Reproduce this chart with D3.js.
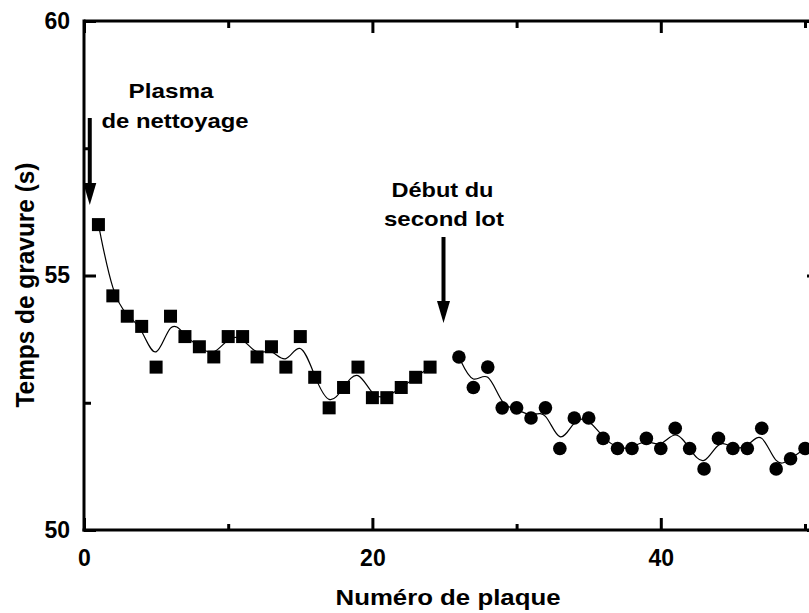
<!DOCTYPE html>
<html>
<head>
<meta charset="utf-8">
<script src="https://cdn.jsdelivr.net/npm/d3@7"></script>
<style>
  html, body { margin: 0; padding: 0; background: #fff; }
  svg { display: block; }
  text { font-family: "Liberation Sans", Arial, sans-serif; font-weight: bold; fill: #000; }
</style>
</head>
<body>
<svg id="chart" width="809" height="613"></svg>
<script>
// ---- Data ----
const lot1Plates = [1,2,3,4,5,6,7,8,9,10,11,12,13,14,15,16,17,18,19,20,21,22,23,24];
const lot1Times  = [56.0,54.6,54.2,54.0,53.2,54.2,53.8,53.6,53.4,53.8,53.8,53.4,53.6,53.2,53.8,53.0,52.4,52.8,53.2,52.6,52.6,52.8,53.0,53.2];
const lot2Plates = [26,27,28,29,30,31,32,33,34,35,36,37,38,39,40,41,42,43,44,45,46,47,48,49,50];
const lot2Times  = [53.4,52.8,53.2,52.4,52.4,52.2,52.4,51.6,52.2,52.2,51.8,51.6,51.6,51.8,51.6,52.0,51.6,51.2,51.8,51.6,51.6,52.0,51.2,51.4,51.6];
const xMajorTicks = [0, 20, 40];
const xMinorTicks = [10, 30, 50];
const yMajorTicks = [50, 55, 60];
const yMinorTicks = [52.5, 57.5];
const xTitle = "Numéro de plaque";
const yTitle = "Temps de gravure (s)";
const annotations = [
  { lines: ["Plasma", "de nettoyage"], plate: 0.4 },
  { lines: ["Début du", "second lot"], plate: 25 }
];

// ---- Layout ----
const svg = d3.select("#chart");
const x = d3.scaleLinear().domain([0, 50]).range([84, 805]);
const y = d3.scaleLinear().domain([50, 60]).range([530, 21]);
const xRight = x(50.97);

const lot1 = lot1Plates.map((p, i) => ({ p, v: lot1Times[i] }));
const lot2 = lot2Plates.map((p, i) => ({ p, v: lot2Times[i] }));

// frame lines (top & right)
const gx0 = x(0);
svg.append("line").attr("x1", gx0).attr("x2", xRight).attr("y1", y(60)).attr("y2", y(60))
  .attr("stroke", "#000").attr("stroke-width", 3);
svg.append("line").attr("x1", xRight).attr("x2", xRight).attr("y1", y(60)).attr("y2", y(50))
  .attr("stroke", "#000").attr("stroke-width", 3);

function styleAxis(g) {
  g.select(".domain").attr("stroke", "#000").attr("stroke-width", 3);
  g.selectAll(".tick line").attr("stroke", "#000").attr("stroke-width", 3);
  g.selectAll(".tick text").style("font-size", "23px").style("font-family", "Liberation Sans, Arial, sans-serif").style("font-weight", "bold");
}

// bottom axis
const bottomMajor = svg.append("g").attr("transform", `translate(0,${y(50)})`)
  .call(d3.axisBottom(x).tickValues(xMajorTicks).tickSize(-12).tickSizeOuter(0).tickPadding(20).tickFormat(d3.format("d")));
styleAxis(bottomMajor);
bottomMajor.select(".domain").attr("d", `M${x(0)-1.5},0H${xRight}`);
const bottomMinor = svg.append("g").attr("transform", `translate(0,${y(50)})`)
  .call(d3.axisBottom(x).tickValues(xMinorTicks).tickSize(-6).tickSizeOuter(0).tickFormat(""));
styleAxis(bottomMinor);
bottomMinor.select(".domain").remove();

// top axis ticks
const topMajor = svg.append("g").attr("transform", `translate(0,${y(60)})`)
  .call(d3.axisTop(x).tickValues(xMajorTicks).tickSize(-12).tickSizeOuter(0).tickFormat(""));
styleAxis(topMajor); topMajor.select(".domain").remove();
const topMinor = svg.append("g").attr("transform", `translate(0,${y(60)})`)
  .call(d3.axisTop(x).tickValues(xMinorTicks).tickSize(-7).tickSizeOuter(0).tickFormat(""));
styleAxis(topMinor); topMinor.select(".domain").remove();

// left axis
const leftMajor = svg.append("g").attr("transform", `translate(${x(0)},0)`)
  .call(d3.axisLeft(y).tickValues(yMajorTicks).tickSize(-12).tickSizeOuter(0).tickPadding(14).tickFormat(d3.format("d")));
styleAxis(leftMajor);
leftMajor.select(".domain").attr("d", `M0,${y(60)-1.5}V${y(50)+1.5}`);
const leftMinor = svg.append("g").attr("transform", `translate(${x(0)},0)`)
  .call(d3.axisLeft(y).tickValues(yMinorTicks).tickSize(-7).tickSizeOuter(0).tickFormat(""));
styleAxis(leftMinor); leftMinor.select(".domain").remove();

// right axis ticks
const rightMajor = svg.append("g").attr("transform", `translate(${xRight},0)`)
  .call(d3.axisRight(y).tickValues(yMajorTicks).tickSize(-12).tickSizeOuter(0).tickFormat(""));
styleAxis(rightMajor); rightMajor.select(".domain").remove();
const rightMinor = svg.append("g").attr("transform", `translate(${xRight},0)`)
  .call(d3.axisRight(y).tickValues(yMinorTicks).tickSize(-7).tickSizeOuter(0).tickFormat(""));
styleAxis(rightMinor); rightMinor.select(".domain").remove();

// smooth curves
const line = d3.line().x(d => x(d.p)).y(d => y(d.v)).curve(d3.curveBasis);
[lot1, lot2].forEach(s => {
  svg.append("path").datum(s).attr("d", line)
    .attr("fill", "none").attr("stroke", "#000").attr("stroke-width", 1.2);
});

// markers
const sq = 13;
svg.append("g").selectAll("rect").data(lot1).join("rect")
  .attr("x", d => x(d.p) - sq/2).attr("y", d => y(d.v) - sq/2)
  .attr("width", sq).attr("height", sq).attr("fill", "#000");
svg.append("g").selectAll("circle").data(lot2).join("circle")
  .attr("cx", d => x(d.p)).attr("cy", d => y(d.v)).attr("r", 6.8).attr("fill", "#000");

// axis titles
svg.append("text").attr("x", 448).attr("y", 605).attr("text-anchor", "middle")
  .style("font-size", "22px").attr("textLength", 225).attr("lengthAdjust", "spacingAndGlyphs")
  .text(xTitle);
svg.append("text").attr("transform", "translate(34,285) rotate(-90)").attr("text-anchor", "middle")
  .style("font-size", "25px").attr("textLength", 245).attr("lengthAdjust", "spacingAndGlyphs")
  .text(yTitle);

// annotations
const annText = [
  { x: 171, y: 98, w: 85 }, { x: 175, y: 128, w: 147 },
  { x: 442.5, y: 197, w: 102 }, { x: 444, y: 226, w: 120 }
];
let k = 0;
annotations.forEach(a => {
  a.lines.forEach(t => {
    const o = annText[k++];
    svg.append("text").attr("x", o.x).attr("y", o.y).attr("text-anchor", "middle")
      .style("font-size", "21px").attr("textLength", o.w).attr("lengthAdjust", "spacingAndGlyphs")
      .text(t);
  });
});

// arrows
function arrow(px, y0, y1) {
  const headLen = 22, headW = 13;
  svg.append("line").attr("x1", px).attr("x2", px).attr("y1", y0).attr("y2", y1 - headLen + 2)
    .attr("stroke", "#000").attr("stroke-width", 4);
  svg.append("path").attr("d", `M${px - headW/2},${y1 - headLen}L${px + headW/2},${y1 - headLen}L${px},${y1}Z`)
    .attr("fill", "#000");
}
arrow(x(annotations[0].plate), 118, 205);
arrow(x(annotations[1].plate) - 1, 237, 323);
</script>
</body>
</html>
